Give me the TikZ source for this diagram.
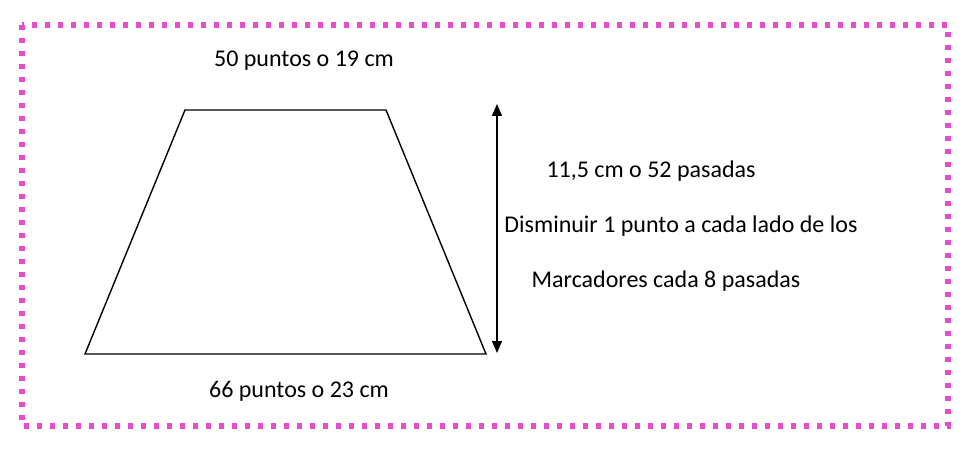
\documentclass[tikz,border=0pt]{standalone}
\usepackage{fontspec}
\setmainfont{Carlito}
\usetikzlibrary{arrows.meta,positioning}
\definecolor{marco}{RGB}{232,76,200}

\begin{document}
\begin{tikzpicture}[x=1pt, y=-1pt,
  etiqueta/.style = {font = \fontsize{24}{28}\selectfont, inner sep = 0pt, anchor = center},
  borde/.style = {draw = marco, line width = 5.5pt, dash pattern = on 5pt off 8pt}]
\useasboundingbox (0,0) rectangle (973,454);
\draw[borde] (22,25) rectangle (948,426);
% trapecio
\coordinate (tl) at (185,110);
\coordinate (tr) at (386,110);
\coordinate (br) at (486,354);
\coordinate (bl) at (85,354);
\draw[line width = 1.4pt] (tl) -- (tr) -- (br) -- (bl) -- cycle;
% flecha de altura
\coordinate (arriba) at (497,104);
\coordinate (abajo) at (497,353);
\draw[line width = 1.4pt, {Triangle[length=12pt, width=10pt]}-{Triangle[length=12pt, width=10pt]}] (arriba) -- (abajo);
\node[etiqueta] (sup) at (304,61) {50 puntos o 19 cm};
\node[etiqueta] (inf) at (299,391) {66 puntos o 23 cm};
\node[etiqueta] (alto) at (651,171) {11,5 cm o 52 pasadas};
\node[etiqueta] (dism) at (681,226) {Disminuir 1 punto a cada lado de los};
\node[etiqueta] (marc) at (666,281) {Marcadores cada 8 pasadas};
\end{tikzpicture}
\end{document}
